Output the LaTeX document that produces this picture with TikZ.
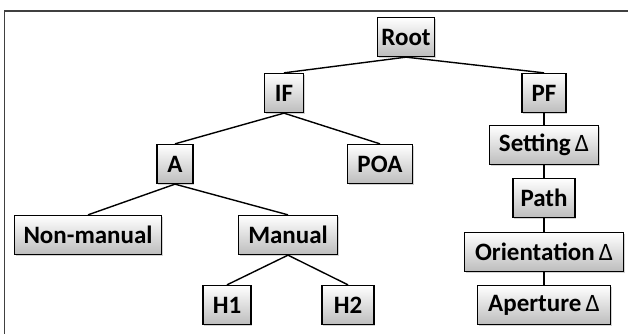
\documentclass[tikz,border=0pt]{standalone}
\usepackage{fontspec}
\setmainfont{Carlito}
\usetikzlibrary{shadows}
\begin{document}
\begin{tikzpicture}[x=1pt,y=-1pt,
  box/.style={draw=black, line width=1.3pt, top color=white, bottom color=gray!52,
    minimum height=39pt, inner sep=0pt, font=\fontsize{25}{28}\selectfont\bfseries,
    drop shadow={shadow xshift=1.2pt, shadow yshift=-1.2pt, opacity=0.35}},
  link/.style={line width=1.4pt, black}]
\useasboundingbox (0,0) rectangle (628,334);
\begin{scope}
\clip (0,0) rectangle (628,334);
\draw[line width=1.3pt, black!75] (4.5,340) -- (4.5,11) -- (640,11);
\end{scope}
\newcommand{\dlt}{{\fontseries{m}\selectfont\,Δ}}
\node[box, minimum width=57pt] (root) at (406,37) {Root};
\node[box, minimum width=39pt] (if) at (284,93) {IF};
\node[box, minimum width=44pt] (pf) at (544,93) {PF};
\node[box, minimum width=36pt] (a) at (175,164) {A};
\node[box, minimum width=65pt] (poa) at (380,164) {POA};
\node[box, minimum width=147pt] (nm) at (88,235) {Non-manual};
\node[box, minimum width=99pt] (man) at (288,235) {Manual};
\node[box, minimum width=48pt] (h1) at (227,305) {H1};
\node[box, minimum width=52pt] (h2) at (348,305) {H2};
\node[box, minimum width=109pt] (set) at (544,145) {Setting\dlt};
\node[box, minimum width=62pt] (path) at (544,198) {Path};
\node[box, minimum width=159pt] (ori) at (544,252) {Orientation\dlt};
\node[box, minimum width=133pt] (ap) at (544,305) {Aperture\dlt};
\draw[link] (root.south) -- (if.north);
\draw[link] (root.south) -- (pf.north);
\draw[link] (if.south) -- (a.north);
\draw[link] (if.south) -- (poa.north);
\draw[link] (a.south) -- (nm.north);
\draw[link] (a.south) -- (man.north);
\draw[link] (man.south) -- (h1.north);
\draw[link] (man.south) -- (h2.north);
\draw[link] (pf.south) -- (set.north);
\draw[link] (set.south) -- (path.north);
\draw[link] (path.south) -- (ori.north);
\draw[link] (ori.south) -- (ap.north);
\end{tikzpicture}
\end{document}
